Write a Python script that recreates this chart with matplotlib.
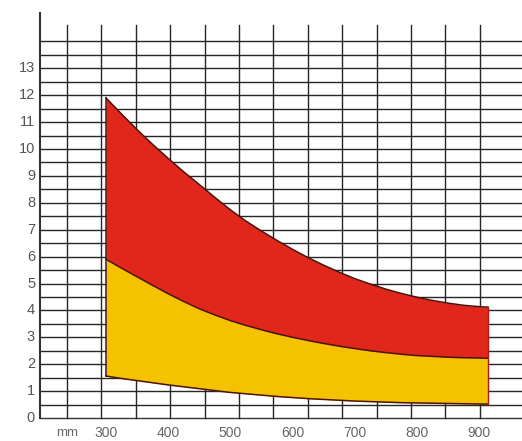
import numpy as np
import matplotlib.pyplot as plt

# distance in mm and the three band boundaries
dist_mm = [300, 325, 350, 375, 400, 425, 450, 475, 500, 525, 550, 575, 600,
           625, 650, 675, 700, 725, 750, 775, 800, 825, 850, 875, 900, 914]
red_top = [11.9, 11.3, 10.72, 10.17, 9.65, 9.15, 8.68, 8.2, 7.74, 7.32, 6.95, 6.6, 6.27,
           5.96, 5.68, 5.42, 5.18, 4.98, 4.79, 4.63, 4.49, 4.37, 4.27, 4.19, 4.14, 4.12]
middle = [5.9, 5.57, 5.25, 4.93, 4.62, 4.33, 4.06, 3.83, 3.62, 3.44, 3.28, 3.13, 3.0,
          2.88, 2.77, 2.67, 2.58, 2.5, 2.43, 2.37, 2.32, 2.29, 2.26, 2.24, 2.23, 2.22]
yellow_bottom = [1.56, 1.47, 1.39, 1.31, 1.23, 1.16, 1.09, 1.02, 0.95, 0.9, 0.85, 0.8, 0.76,
                 0.72, 0.69, 0.66, 0.63, 0.61, 0.59, 0.57, 0.56, 0.55, 0.54, 0.53, 0.52, 0.52]

y_ticks = list(range(0, 14))
x_ticks = [300, 400, 500, 600, 700, 800, 900]

plt.rcParams['font.family'] = ['Liberation Sans', 'DejaVu Sans']

fig = plt.figure(figsize=(5.22, 4.41), dpi=100)
ax = fig.add_axes([0, 0, 1, 1])
ax.set_xlim(129.6, 968.8)
ax.set_ylim(-0.855, 15.54)
ax.axis('off')

# grid
x_left = 193.9
for yv in np.arange(0.5, 14.01, 0.5):
    ax.plot([x_left, 968.8], [yv, yv], color='#262626', lw=1.0, zorder=1)
ax.plot([x_left, 968.8], [0, 0], color='#333333', lw=1.0, zorder=1)
for xv in 237.3 + 55.3 * np.arange(13):
    ax.plot([xv, xv], [0, 14.6], color='#262626', lw=1.0, zorder=1)
ax.plot([x_left, x_left], [0, 15.05], color='#333333', lw=1.5, zorder=1)

# bands
ax.fill_between(dist_mm, middle, red_top, color='#e1261c', lw=0, zorder=2)
ax.fill_between(dist_mm, yellow_bottom, middle, color='#f6c200', lw=0, zorder=2)
edge = '#4a1208'
ax.plot(dist_mm, red_top, color=edge, lw=1.1, zorder=3)
ax.plot(dist_mm, middle, color=edge, lw=1.1, zorder=3)
ax.plot(dist_mm, yellow_bottom, color=edge, lw=1.1, zorder=3)
ax.plot([dist_mm[0], dist_mm[0]], [yellow_bottom[0], red_top[0]], color=edge, lw=1.1, zorder=3)
ax.plot([dist_mm[-1], dist_mm[-1]], [yellow_bottom[-1], red_top[-1]], color='#b01a10', lw=1.0, zorder=3)

# labels
for t in y_ticks:
    ax.text(186, t, str(t), ha='right', va='center', fontsize=10.5, color='#555555')
for t in x_ticks:
    ax.text(t, -0.56, str(t), ha='center', va='center', fontsize=10, color='#666666')
ax.text(237, -0.56, 'mm', ha='center', va='center', fontsize=9.5, color='#666666')

fig.savefig('out.png', dpi=100)
